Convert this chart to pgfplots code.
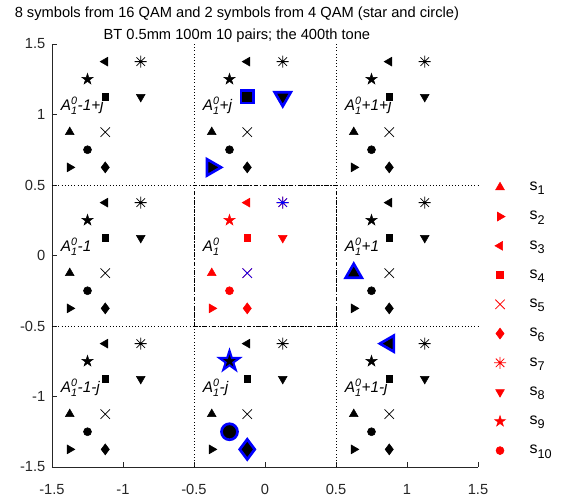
\documentclass[border=0pt]{standalone}
\usepackage{fontspec}
\setmainfont{Liberation Sans}
\usepackage{amsmath}
\usepackage{pgfplots}
\pgfplotsset{compat=1.18}
\usetikzlibrary{calc}

% MATLAB-like marks: 8-arm asterisk and filled pentagram
\pgfdeclareplotmark{ast8}{%
  \pgfpathmoveto{\pgfqpoint{-\pgfplotmarksize}{0pt}}\pgfpathlineto{\pgfqpoint{\pgfplotmarksize}{0pt}}%
  \pgfpathmoveto{\pgfqpoint{0pt}{-\pgfplotmarksize}}\pgfpathlineto{\pgfqpoint{0pt}{\pgfplotmarksize}}%
  \pgfpathmoveto{\pgfpointpolar{45}{\pgfplotmarksize}}\pgfpathlineto{\pgfpointpolar{225}{\pgfplotmarksize}}%
  \pgfpathmoveto{\pgfpointpolar{135}{\pgfplotmarksize}}\pgfpathlineto{\pgfpointpolar{315}{\pgfplotmarksize}}%
  \pgfusepathqstroke
}
\pgfdeclareplotmark{pent*}{%
  \pgfpathmoveto{\pgfpointpolar{90}{\pgfplotmarksize}}%
  \pgfpathlineto{\pgfpointpolar{126}{0.382\pgfplotmarksize}}%
  \pgfpathlineto{\pgfpointpolar{162}{\pgfplotmarksize}}%
  \pgfpathlineto{\pgfpointpolar{198}{0.382\pgfplotmarksize}}%
  \pgfpathlineto{\pgfpointpolar{234}{\pgfplotmarksize}}%
  \pgfpathlineto{\pgfpointpolar{270}{0.382\pgfplotmarksize}}%
  \pgfpathlineto{\pgfpointpolar{306}{\pgfplotmarksize}}%
  \pgfpathlineto{\pgfpointpolar{342}{0.382\pgfplotmarksize}}%
  \pgfpathlineto{\pgfpointpolar{18}{\pgfplotmarksize}}%
  \pgfpathlineto{\pgfpointpolar{54}{0.382\pgfplotmarksize}}%
  \pgfpathclose
  \pgfusepathqfillstroke
}

\pgfplotsset{
  sy1/.style={mark=triangle*, mark size=3.8pt},
  sy2/.style={mark=triangle*, mark size=3.8pt, mark options={rotate=-90}},
  sy3/.style={mark=triangle*, mark size=3.8pt, mark options={rotate=90}},
  sy4/.style={mark=square*, mark size=2.5pt},
  sy5/.style={mark=x, mark size=5pt, line width=0.6pt},
  sy6/.style={mark=diamond*, mark size=4.1pt},
  sy7/.style={mark=ast8, mark size=4.5pt, line width=0.6pt},
  sy8/.style={mark=triangle*, mark size=3.8pt, mark options={rotate=180}},
  sy9/.style={mark=pent*, mark size=4.3pt},
  sy10/.style={mark=*, mark size=3pt},
  blk/.style={only marks, black, line width=0.4pt, forget plot},
  rd/.style={only marks, red, line width=0.4pt},
  big/.style={only marks, draw=blue, fill=black, line width=2pt, forget plot},
}

\newcommand{\lab}[1]{\itshape A$^{\text{\itshape 0}}_{\text{\itshape 1}}$#1}
\newcommand{\sk}[1]{s\raisebox{-0.5ex}{\fontsize{9.5}{10}\selectfont #1}}

\begin{document}
\begin{tikzpicture}
\begin{axis}[
    name=ax,
    width=319.5pt, height=317.25pt, scale only axis,
    xmin=-1.5, xmax=1.5, ymin=-1.5, ymax=1.5,
    axis x line*=bottom, axis y line*=left,
    axis line style={black!85, line width=0.5pt},
    tick align=inside,
    major tick length=3.5pt,
    major tick style={black!85},
    xtick={-1.5,-1,-0.5,0,0.5,1,1.5},
    ytick={-1.5,-1,-0.5,0,0.5,1,1.5},
    /pgf/number format/assume math mode=true,
    ticklabel style={font=\fontsize{11}{13}\selectfont, color=black!85},
    xticklabel style={yshift=-9.5pt},
    yticklabel style={xshift=-1.5pt},
    title={8 symbols from 16 QAM and 2 symbols from 4 QAM (star and circle)\\BT 0.5mm 100m 10 pairs; the 400th tone},
    title style={align=center, font=\fontsize{11}{16.5}\selectfont, at={(0.434,1)}, anchor=south, inner sep=0pt, yshift=-5pt},
    clip=false,
    legend style={draw=none, fill=none, at={(1.037,0.35)}, anchor=west, inner sep=0pt,
      font=\fontsize{12}{14}\selectfont, row sep=10pt,
      /tikz/every odd column/.append style={column sep=15.75pt}},
    legend cell align=left,
]
% cell boundaries
\addplot[black, dotted, forget plot] coordinates {(-0.5,-1.5) (-0.5,1.5)};
\addplot[black, dotted, forget plot] coordinates {(0.5,-1.5) (0.5,1.5)};
\addplot[black, dotted, forget plot] coordinates {(-1.5,-0.5) (1.5,-0.5)};
\addplot[black, dotted, forget plot] coordinates {(-1.5,0.5) (1.5,0.5)};
\addplot[black, dash pattern=on 3pt off 1.5pt on 0.6pt off 1.5pt, forget plot]
  coordinates {(-0.5,-0.5) (0.5,-0.5) (0.5,0.5) (-0.5,0.5) (-0.5,-0.5)};

% nearest replicas (highlighted)
\addplot[sy1, big, mark size=7pt] coordinates {(0.625,-0.125)};
\addplot[sy2, big, mark size=7pt] coordinates {(-0.375,0.625)};
\addplot[sy3, big, mark size=7pt] coordinates {(0.875,-0.625)};
\addplot[sy4, big, mark size=4.6pt] coordinates {(-0.125,1.125)};
\addplot[sy6, big, mark size=7.5pt] coordinates {(-0.125,-1.375)};
\addplot[sy8, big, mark size=7pt] coordinates {(0.125,1.125)};
\addplot[sy9, big, mark size=7.2pt] coordinates {(-0.25,-0.75)};
\addplot[sy10, big, mark size=6pt] coordinates {(-0.25,-1.25)};

% shifted copies (black)
\addplot[blk, sy1] coordinates {(-1.375,0.875) (-0.375,0.875) (0.625,0.875) (-1.375,-0.125) (0.625,-0.125) (-1.375,-1.125) (-0.375,-1.125) (0.625,-1.125)};
\addplot[blk, sy2] coordinates {(-1.375,0.625) (-0.375,0.625) (0.625,0.625) (-1.375,-0.375) (0.625,-0.375) (-1.375,-1.375) (-0.375,-1.375) (0.625,-1.375)};
\addplot[blk, sy3] coordinates {(-1.125,1.375) (-0.125,1.375) (0.875,1.375) (-1.125,0.375) (0.875,0.375) (-1.125,-0.625) (-0.125,-0.625) (0.875,-0.625)};
\addplot[blk, sy4] coordinates {(-1.125,1.125) (-0.125,1.125) (0.875,1.125) (-1.125,0.125) (0.875,0.125) (-1.125,-0.875) (-0.125,-0.875) (0.875,-0.875)};
\addplot[blk, sy5] coordinates {(-1.125,0.875) (-0.125,0.875) (0.875,0.875) (-1.125,-0.125) (0.875,-0.125) (-1.125,-1.125) (-0.125,-1.125) (0.875,-1.125)};
\addplot[blk, sy6] coordinates {(-1.125,0.625) (-0.125,0.625) (0.875,0.625) (-1.125,-0.375) (0.875,-0.375) (-1.125,-1.375) (-0.125,-1.375) (0.875,-1.375)};
\addplot[blk, sy7] coordinates {(-0.875,1.375) (0.125,1.375) (1.125,1.375) (-0.875,0.375) (1.125,0.375) (-0.875,-0.625) (0.125,-0.625) (1.125,-0.625)};
\addplot[blk, sy8] coordinates {(-0.875,1.125) (0.125,1.125) (1.125,1.125) (-0.875,0.125) (1.125,0.125) (-0.875,-0.875) (0.125,-0.875) (1.125,-0.875)};
\addplot[blk, sy9] coordinates {(-1.25,1.25) (-0.25,1.25) (0.75,1.25) (-1.25,0.25) (0.75,0.25) (-1.25,-0.75) (-0.25,-0.75) (0.75,-0.75)};
\addplot[blk, sy10] coordinates {(-1.25,0.75) (-0.25,0.75) (0.75,0.75) (-1.25,-0.25) (0.75,-0.25) (-1.25,-1.25) (-0.25,-1.25) (0.75,-1.25)};

% transmitted symbols (red)
\addplot[rd, sy1] coordinates {(-0.375,-0.125)}; \addlegendentry{\sk{1}}
\addplot[rd, sy2] coordinates {(-0.375,-0.375)}; \addlegendentry{\sk{2}}
\addplot[rd, sy3] coordinates {(-0.125,0.375)};  \addlegendentry{\sk{3}}
\addplot[rd, sy4] coordinates {(-0.125,0.125)};  \addlegendentry{\sk{4}}
\addplot[rd, sy5] coordinates {(-0.125,-0.125)}; \addlegendentry{\sk{5}}
\addplot[rd, sy6] coordinates {(-0.125,-0.375)}; \addlegendentry{\sk{6}}
\addplot[rd, sy7] coordinates {(0.125,0.375)};   \addlegendentry{\sk{7}}
\addplot[rd, sy8] coordinates {(0.125,0.125)};   \addlegendentry{\sk{8}}
\addplot[rd, sy9] coordinates {(-0.25,0.25)};    \addlegendentry{\sk{9}}
\addplot[rd, sy10] coordinates {(-0.25,-0.25)};  \addlegendentry{\sk{10}}

% in-cell nearest (blue)
\addplot[only marks, blue, line width=0.6pt, forget plot, sy5] coordinates {(-0.125,-0.125)};
\addplot[only marks, blue, line width=0.6pt, forget plot, sy7] coordinates {(0.125,0.375)};

% cell labels
\begin{scope}[every node/.style={anchor=west, inner sep=0pt, font=\fontsize{11.5}{13}\selectfont}]
\node at (axis cs:-1.44,1.06) {\lab{-1+j}};
\node at (axis cs:-0.44,1.06) {\lab{+j}};
\node at (axis cs:0.56,1.06) {\lab{+1+j}};
\node at (axis cs:-1.44,0.06) {\lab{-1}};
\node at (axis cs:-0.44,0.06) {\lab{}};
\node at (axis cs:0.56,0.06) {\lab{+1}};
\node at (axis cs:-1.44,-0.94) {\lab{-1-j}};
\node at (axis cs:-0.44,-0.94) {\lab{-j}};
\node at (axis cs:0.56,-0.94) {\lab{+1-j}};
\end{scope}
\end{axis}
\pgfresetboundingbox
\path[use as bounding box] ($(ax.south west)+(-39pt,-24.75pt)$) rectangle ($(ax.south west)+(395.25pt,350.25pt)$);
\end{tikzpicture}
\end{document}
